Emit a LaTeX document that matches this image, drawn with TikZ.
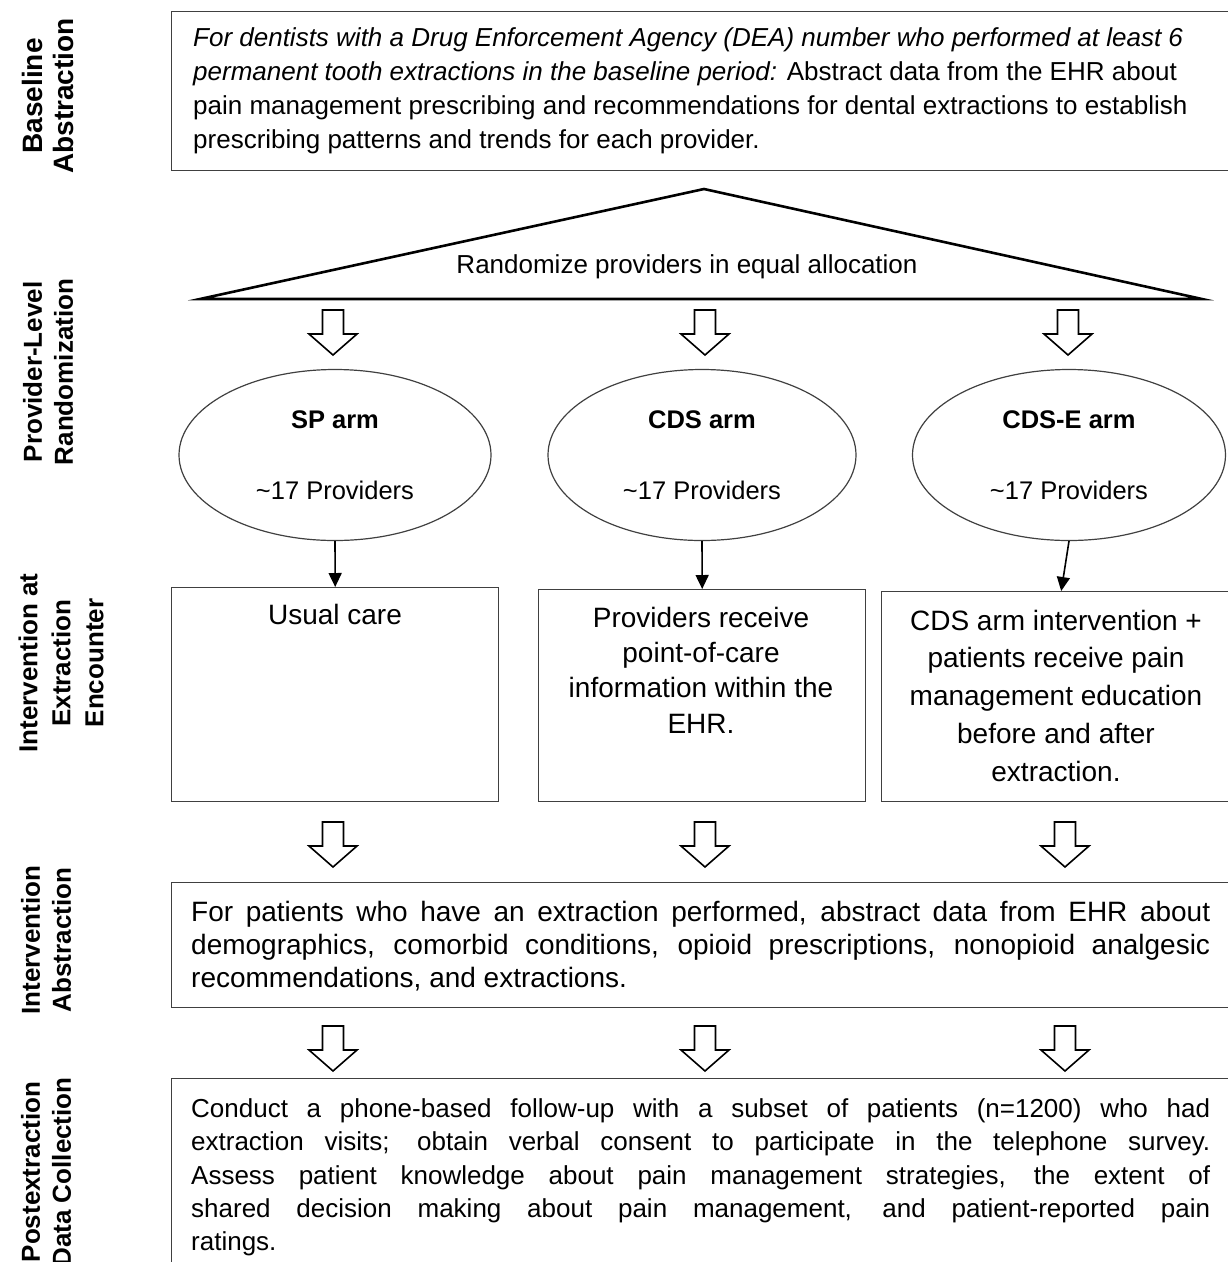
\documentclass[tikz,border=0pt]{standalone}
\usepackage{fontspec}
\setmainfont{Liberation Sans}
\usetikzlibrary{arrows.meta,shapes.geometric}
\definecolor{boxgray}{gray}{0.25}
\begin{document}
\begin{tikzpicture}[x=1pt,y=-1pt,
  box/.style={draw=boxgray, line width=1.4pt, rectangle, inner sep=0pt, anchor=north west},
  armell/.style={draw=boxgray, line width=1.2pt, ellipse, inner sep=0pt, minimum width=312pt, minimum height=171pt},
  lbl/.style={rotate=90, align=center, font=\fontsize{26}{31}\selectfont\bfseries, inner sep=0pt},
  lblthree/.style={lbl, font=\fontsize{26}{33}\selectfont\bfseries},
  txt/.style={inner sep=0pt, text=black},
  thinarrow/.style={line width=1.6pt, -{Triangle[length=14pt,width=13pt]}},
  blockarrow/.pic={\draw[line width=1.6pt, line join=miter, fill=white]
     (-10.5,0) -- (-10.5,24) -- (-24,24) -- (0,45) -- (24,24) -- (10.5,24) -- (10.5,0) -- cycle;}
]
\useasboundingbox (0,0) rectangle (1228,1262);
\clip (0,0) rectangle (1228,1262);

% left stage labels
\node[lbl, font=\fontsize{28}{31}\selectfont\bfseries] (lab1) at (48,96) {Baseline\\Abstraction};
\node[lbl] (lab2) at (48,372) {Provider-Level\\Randomization};
\node[lblthree] (lab3) at (61,663) {Intervention at\\Extraction\\Encounter};
\node[lbl] (lab4) at (46,940) {Intervention\\Abstraction};
\node[lbl] (lab5) at (46,1172) {Postextraction\\Data Collection};

% baseline box
\node[box, minimum width=1069pt, minimum height=159pt] (top) at (171,11) {};
\node[txt, anchor=base west, align=left, font=\fontsize{26}{34}\selectfont] (toptext) at (193,148.5)
 {\textit{For dentists with a Drug Enforcement Agency (DEA) number who performed at least 6}\\
  \textit{permanent tooth extractions in the baseline period:} Abstract data from the EHR about\\
  pain management prescribing and recommendations for dental extractions to establish\\
  prescribing patterns and trends for each provider.};

% randomization triangle
\draw[line width=2.6pt, line join=miter] (200,299) -- (704,189) -- (1202,299) -- cycle;
\node[txt, anchor=base, font=\fontsize{26}{30}\selectfont] (rand) at (687,273.5) {Randomize providers in equal allocation};

% block arrows row 1
\pic at (333,310) {blockarrow};
\pic at (705,310) {blockarrow};
\pic at (1068,310) {blockarrow};

% arms
\node[armell] (sp) at (335,455) {};
\node[armell, minimum width=308pt] (cds) at (702,455) {};
\node[armell, minimum width=313pt] (cdse) at (1069,455) {};
\node[txt, anchor=base, font=\fontsize{25.5}{30}\selectfont\bfseries] (sp1) at (335,428) {SP arm};
\node[txt, anchor=base, font=\fontsize{25.5}{30}\selectfont] (sp2) at (335,499) {\textasciitilde17 Providers};
\node[txt, anchor=base, font=\fontsize{25.5}{30}\selectfont\bfseries] (cds1) at (702,428) {CDS arm};
\node[txt, anchor=base, font=\fontsize{25.5}{30}\selectfont] (cds2) at (702,499) {\textasciitilde17 Providers};
\node[txt, anchor=base, font=\fontsize{25.5}{30}\selectfont\bfseries] (cdse1) at (1069,428) {CDS-E arm};
\node[txt, anchor=base, font=\fontsize{25.5}{30}\selectfont] (cdse2) at (1069,499) {\textasciitilde17 Providers};

% intervention boxes
\node[box, minimum width=327pt, minimum height=214pt] (usual) at (171,587) {};
\node[box, minimum width=327pt, minimum height=212pt] (cdsbox) at (538,589) {};
\node[box, minimum width=359pt, minimum height=210pt] (cdsebox) at (881,591) {};
\node[txt, anchor=base, font=\fontsize{28}{35}\selectfont] (usualtext) at (335,624) {Usual care};
\node[txt, anchor=base, align=center, font=\fontsize{28}{35.3}\selectfont] (cdstext) at (701,733)
 {Providers receive\\point-of-care\\information within the\\EHR.};
\node[txt, anchor=base, align=center, font=\fontsize{28}{37.75}\selectfont] (cdsetext) at (1056,781)
 {CDS arm intervention +\\patients receive pain\\management education\\before and after\\extraction.};

\draw[thinarrow] (sp.south) -- (usual.north);
\draw[thinarrow] (cds.south) -- (cdsbox.north);
\draw[thinarrow] (cdse.south) -- (cdsebox.north);

% block arrows row 2
\pic at (333,822) {blockarrow};
\pic at (705,822) {blockarrow};
\pic at (1065,822) {blockarrow};

% intervention abstraction
\node[box, minimum width=1069pt, minimum height=125pt] (ia) at (171,882) {};
\node[txt, anchor=base west, align=left, font=\fontsize{28}{33}\selectfont] (iatext) at (191,987)
 {\makebox[1019pt][s]{For patients who have an extraction performed, abstract data from EHR about}\\
  \makebox[1019pt][s]{demographics, comorbid conditions, opioid prescriptions, nonopioid analgesic}\\
  recommendations, and extractions.};

% block arrows row 3
\pic at (333,1026) {blockarrow};
\pic at (705,1026) {blockarrow};
\pic at (1065,1026) {blockarrow};

% postextraction box
\node[box, minimum width=1069pt, minimum height=200pt] (post) at (171,1078) {};
\node[txt, anchor=base west, align=left, font=\fontsize{26}{33.3}\selectfont] (posttext) at (191,1250.7)
 {\makebox[1019pt][s]{Conduct a phone-based follow-up with a subset of patients (n=1200) who had}\\
  \makebox[1019pt][s]{extraction visits; obtain verbal consent to participate in the telephone survey.}\\
  \makebox[1019pt][s]{Assess patient knowledge about pain management strategies, the extent of}\\
  \makebox[1019pt][s]{shared decision making about pain management, and patient-reported pain}\\
  ratings.};
\end{tikzpicture}
\end{document}
